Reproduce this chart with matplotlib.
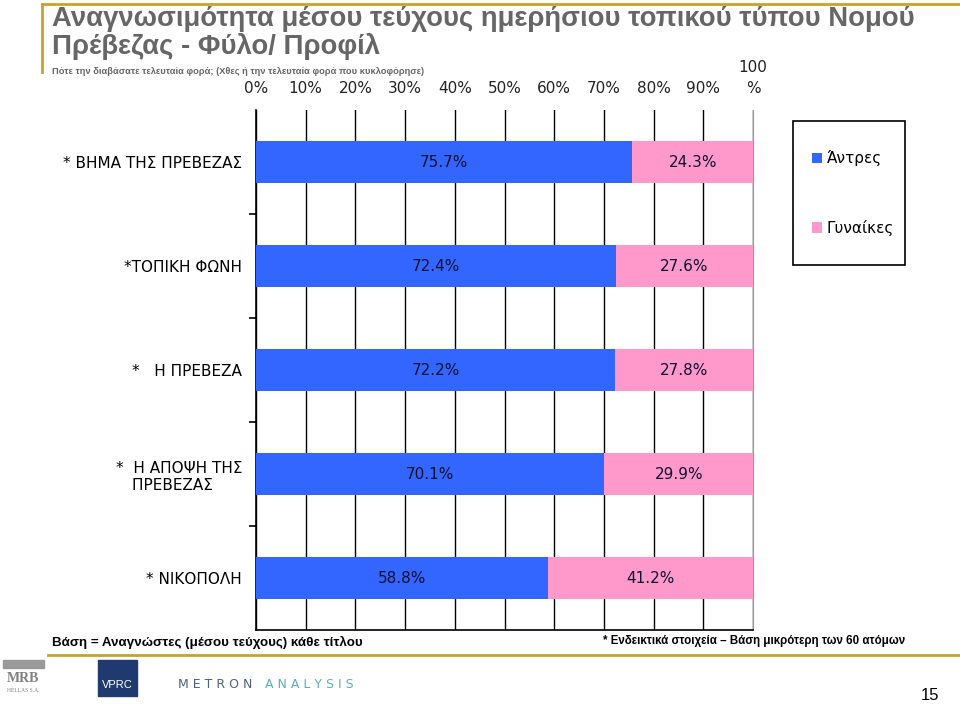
import matplotlib
matplotlib.use("Agg")
import matplotlib.pyplot as plt
from matplotlib.lines import Line2D
from matplotlib.patches import Patch, Rectangle
import numpy as np

plt.rcParams['font.family'] = ['DejaVu Sans']

categories = ["* ΒΗΜΑ ΤΗΣ ΠΡΕΒΕΖΑΣ", "*ΤΟΠΙΚΗ ΦΩΝΗ", "*   Η ΠΡΕΒΕΖΑ",
              "*  Η ΑΠΟΨΗ ΤΗΣ\nΠΡΕΒΕΖΑΣ      ", "* ΝΙΚΟΠΟΛΗ"]
men = [75.7, 72.4, 72.2, 70.1, 58.8]
women = [24.3, 27.6, 27.8, 29.9, 41.2]
series_names = ["Άντρες", "Γυναίκες"]
xtick_labels = ["0%", "10%", "20%", "30%", "40%", "50%", "60%", "70%", "80%", "90%", "100\n%"]

BLUE = "#3366FF"
PINK = "#FF99CC"
GREY = "#666666"
GOLD = "#C9A227"

W, H = 960, 704
def fx(px): return px / W
def fy(py): return 1 - py / H

fig = plt.figure(figsize=(9.6, 7.04), dpi=100)
ax = fig.add_axes([0.2667, 0.1051, 0.5177, 0.7386])

y = np.arange(len(categories))
h = 0.4
ax.barh(y, men, height=h, color=BLUE, zorder=3)
ax.barh(y, women, left=men, height=h, color=PINK, zorder=3)
for i in range(len(categories)):
    ax.text(men[i] / 2, y[i], f"{men[i]:.1f}%", ha="center", va="center",
            fontsize=11, color="#101030", zorder=4)
    ax.text(men[i] + women[i] / 2, y[i], f"{women[i]:.1f}%", ha="center", va="center",
            fontsize=11, color="#101030", zorder=4)

ax.set_xlim(0, 100)
ax.set_ylim(len(categories) - 0.5, -0.5)
ax.set_xticks(np.arange(0, 101, 10))
ax.set_xticklabels(xtick_labels, linespacing=1.5)
ax.xaxis.tick_top()
ax.tick_params(axis="x", length=0, pad=10, labelsize=11, colors="#222222")
ax.grid(axis="x", color="black", linewidth=1, zorder=1)

ax.set_yticks(y)
ax.set_yticklabels(categories, fontsize=11)
ax.set_yticks(np.arange(0.5, len(categories) - 0.5, 1), minor=True)
ax.tick_params(axis="y", which="major", length=0, pad=10)
ax.tick_params(axis="y", which="minor", length=5, width=1.2, direction="out")

ax.spines["top"].set_visible(False)
ax.spines["right"].set_color("#999999")
ax.spines["left"].set_linewidth(1.2)
ax.spines["bottom"].set_linewidth(1.2)

# Legend with separate frame
fig.add_artist(Rectangle((fx(793), fy(265)), fx(905) - fx(793), fy(121) - fy(265),
                         fill=False, edgecolor="black", lw=1.2))
handles = [Patch(facecolor=BLUE, label=series_names[0]),
           Patch(facecolor=PINK, label=series_names[1])]
leg = fig.legend(handles=handles, loc="center", bbox_to_anchor=(fx(853), fy(193)),
                 frameon=False, fontsize=11,
                 handlelength=0.7, handleheight=0.7, handletextpad=0.3,
                 labelspacing=3.5, borderpad=0, borderaxespad=0)

# Title area
fig.add_artist(Line2D([fx(42), 1.0], [fy(4), fy(4)], color=GOLD, lw=2))
fig.add_artist(Line2D([fx(42), fx(42)], [fy(4), fy(72)], color=GOLD, lw=2))
fig.text(fx(52), fy(19), "Αναγνωσιμότητα μέσου τεύχους ημερήσιου τοπικού τύπου Νομού",
         fontsize=19.8, fontweight="bold", color=GREY, va="center", ha="left",
         family="Liberation Sans")
fig.text(fx(52), fy(46), "Πρέβεζας - Φύλο/ Προφίλ",
         fontsize=19.8, fontweight="bold", color=GREY, va="center", ha="left",
         family="Liberation Sans")
fig.text(fx(52), fy(72), "Πότε την διαβάσατε τελευταία φορά; (Χθες ή την τελευταία φορά που κυκλοφόρησε)",
         fontsize=6.7, fontweight="bold", color=GREY, va="center", ha="left",
         family="Liberation Sans")

# Footer
fig.text(fx(52), fy(642), "Βάση = Αναγνώστες (μέσου τεύχους) κάθε τίτλου",
         fontsize=9.6, fontweight="bold", color="black", va="center", ha="left",
         family="Liberation Sans")
fig.text(fx(603), fy(641), "* Ενδεικτικά στοιχεία – Βάση μικρότερη των 60 ατόμων",
         fontsize=8.3, fontweight="bold", color="black", va="center", ha="left",
         family="Liberation Sans")
fig.add_artist(Line2D([fx(48), 1.0], [fy(655), fy(655)], color=GOLD, lw=2))

# Logos (approximated with text)
fig.add_artist(Rectangle((fx(3), fy(668)), fx(44) - fx(3), fy(660) - fy(668), color="#9a9a9a"))
fig.text(fx(23), fy(679), "MRB", fontsize=10, fontweight="bold", color="#808080",
         ha="center", va="center", family="Liberation Serif")
fig.text(fx(23), fy(691), "HELLAS S.A.", fontsize=4, color="#808080",
         ha="center", va="center", family="Liberation Serif")
fig.add_artist(Rectangle((fx(98), fy(696)), fx(137) - fx(98), fy(660) - fy(696), color="#1f3a6e"))
fig.text(fx(117), fy(685), "VPRC", fontsize=8, color="white",
         ha="center", va="center", family="Liberation Sans")
fig.text(fx(178), fy(684), "M E T R O N", fontsize=9, color="#4f5f80",
         ha="left", va="center", family="DejaVu Sans")
fig.text(fx(265), fy(684), "A N A L Y S I S", fontsize=9, color="#5aaec0",
         ha="left", va="center", family="DejaVu Sans")
fig.text(fx(930), fy(696), "15", fontsize=12, color="black",
         ha="center", va="center", family="Liberation Sans")

fig.savefig("out.png", dpi=100)
